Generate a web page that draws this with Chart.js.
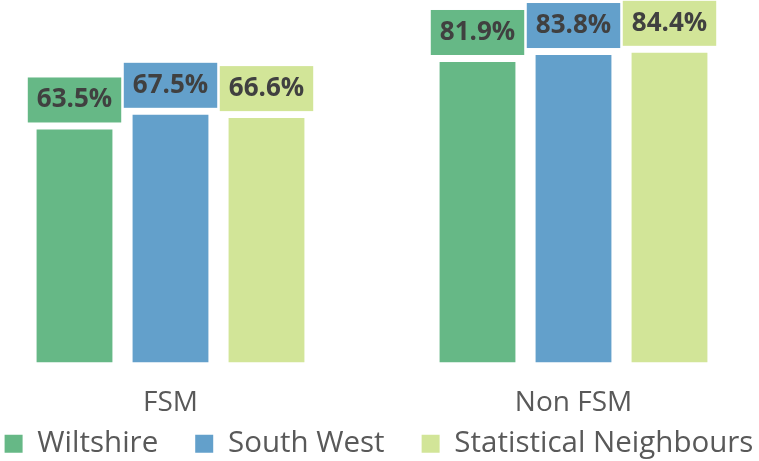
<!DOCTYPE html>
<html><head><meta charset="utf-8">
<script src="https://cdn.jsdelivr.net/npm/chart.js@4.4.1/dist/chart.umd.min.js"></script>
<style>html,body{margin:0;padding:0;background:#fff;overflow:hidden}#wrap{width:759px;height:461px;position:relative;overflow:hidden}#c{position:absolute;left:-31px;top:0}</style>
</head><body><div id="wrap"><canvas id="c" width="806" height="461"></canvas></div>
<script>
const categories = ['FSM', 'Non FSM'];
const seriesNames = ['Wiltshire', 'South West', 'Statistical Neighbours'];
const wiltshire = [63.5, 81.9];
const southWest = [67.5, 83.8];
const statNeighbours = [66.6, 84.4];
const seriesColors = ['#66b886', '#63a0cb', '#d2e598'];

const valueLabels = {
  id: 'valueLabels',
  afterDatasetsDraw(chart) {
    const ctx = chart.ctx;
    ctx.save();
    ctx.font = 'bold 26px "Open Sans"';
    chart.data.datasets.forEach((ds, i) => {
      const meta = chart.getDatasetMeta(i);
      meta.data.forEach((bar, j) => {
        const txt = ds.data[j].toFixed(1) + '%';
        const w = ctx.measureText(txt).width + 18;
        const h = 45;
        const x = bar.x - w / 2, y = bar.y - 7 - h;
        ctx.fillStyle = ds.backgroundColor;
        ctx.fillRect(x, y, w, h);
        ctx.fillStyle = '#404040';
        ctx.textAlign = 'center';
        ctx.textBaseline = 'middle';
        ctx.fillText(txt, bar.x, y + h / 2);
      });
    });
    ctx.restore();
  }
};

// keep legend on one row, take little layout space, and place it
const legendPlace = {
  id: 'legendPlace',
  beforeLayout(chart) {
    const l = chart.legend;
    if (l && !l.__wrapped) {
      const orig = l.fit;
      l.fit = function () {
        const mw = this.maxWidth;
        this.maxWidth = 5000;
        orig.call(this);
        this.maxWidth = mw;
        this.width = mw;
        this.height = 17;
      };
      l.__wrapped = true;
    }
  },
  afterLayout(chart) {
    const l = chart.legend;
    if (l) {
      l.left += 7 - 60; l.right += 7 + 60;
      l.top = 392; l.bottom = 461;
    }
  }
};

const values = [wiltshire, southWest, statNeighbours];
new Chart(document.getElementById('c'), {
  type: 'bar',
  data: {
    labels: categories,
    datasets: seriesNames.map((n, i) => ({
      label: n,
      data: values[i],
      backgroundColor: seriesColors[i],
      borderWidth: 0,
      categoryPercentage: 0.7146,
      barPercentage: 0.79
    }))
  },
  options: {
    responsive: false,
    animation: false,
    layout: { padding: 0 },
    scales: {
      x: {
        grid: { display: false, drawTicks: false },
        border: { display: false },
        ticks: { color: '#595959', font: { family: 'Open Sans', size: 28 }, padding: 24 }
      },
      y: { display: false, min: 0, max: 98.8 }
    },
    plugins: {
      tooltip: { enabled: false },
      legend: {
        position: 'bottom',
        labels: {
          color: '#595959',
          font: { family: 'Open Sans', size: 29.5 },
          boxWidth: 18, boxHeight: 18, padding: 37
        }
      }
    }
  },
  plugins: [valueLabels, legendPlace]
});
</script></body></html>
